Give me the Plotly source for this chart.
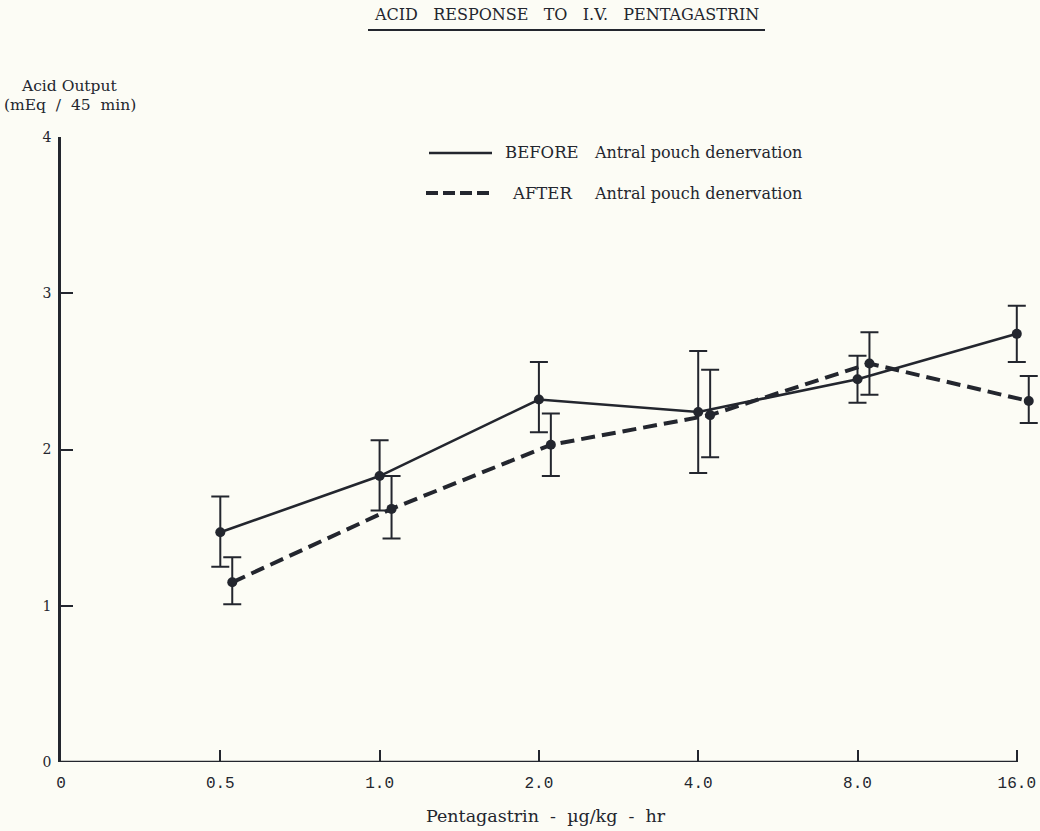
import plotly.graph_objects as go

# ---- data ----
dose_labels = ["0", "0.5", "1.0", "2.0", "4.0", "8.0", "16.0"]
doses = ["0.5", "1.0", "2.0", "4.0", "8.0", "16.0"]

before_mean = [1.47, 1.83, 2.32, 2.24, 2.45, 2.74]
before_upper = [1.70, 2.06, 2.56, 2.63, 2.60, 2.92]
before_lower = [1.25, 1.61, 2.11, 1.85, 2.30, 2.56]

after_mean = [1.15, 1.62, 2.03, 2.22, 2.55, 2.31]
after_upper = [1.31, 1.83, 2.23, 2.51, 2.75, 2.47]
after_lower = [1.01, 1.43, 1.83, 1.95, 2.35, 2.17]

y_ticks = [0, 1, 2, 3, 4]

# ---- styling / layout ----
INK = "#23262e"
BG = "#fcfcf5"
W, H = 1040, 831
L, R, T, B = 61, 0, 137, 69
AFTER_SHIFT = 0.075

def pos(d):
    return dose_labels.index(d)

x_before = [pos(d) for d in doses]
x_after = [pos(d) + AFTER_SHIFT for d in doses]

def err(mean, up, lo):
    return ([u - m for m, u in zip(mean, up)], [m - l for m, l in zip(mean, lo)])

bp, bm = err(before_mean, before_upper, before_lower)
ap, am = err(after_mean, after_upper, after_lower)

fig = go.Figure()
fig.add_trace(go.Scatter(
    x=x_before, y=before_mean, mode="lines+markers", name="BEFORE",
    line=dict(color=INK, width=2.6),
    marker=dict(color=INK, size=10),
    error_y=dict(type="data", symmetric=False, array=bp, arrayminus=bm,
                 color=INK, thickness=2, width=9),
    showlegend=False,
))
fig.add_trace(go.Scatter(
    x=x_after, y=after_mean, mode="lines+markers", name="AFTER",
    line=dict(color=INK, width=4, dash="14px,7px"),
    marker=dict(color=INK, size=10),
    error_y=dict(type="data", symmetric=False, array=ap, arrayminus=am,
                 color=INK, thickness=2, width=9),
    showlegend=False,
))

pw = W - L - R
ph = H - T - B

def px(x):
    return (x - L) / pw

def py(y):
    return (H - B - y) / ph

serif = "DejaVu Serif"
annotations = [
    dict(text="ACID   RESPONSE   TO   I.V.   PENTAGASTRIN", x=px(566), y=py(15),
         font=dict(family=serif, size=16, color=INK)),
    dict(text="Acid Output", x=px(69), y=py(86),
         font=dict(family=serif, size=15.5, color=INK)),
    dict(text="(mEq  /  45  min)", x=px(70), y=py(105),
         font=dict(family=serif, size=15.5, color=INK)),
    dict(text="BEFORE", x=px(503), y=py(153), xanchor="left",
         font=dict(family=serif, size=16.5, color=INK)),
    dict(text="Antral pouch denervation", x=px(592), y=py(153), xanchor="left",
         font=dict(family=serif, size=16, color=INK)),
    dict(text="AFTER", x=px(510), y=py(193), xanchor="left",
         font=dict(family=serif, size=16.5, color=INK)),
    dict(text="Antral pouch denervation", x=px(592), y=py(193), xanchor="left",
         font=dict(family=serif, size=16, color=INK)),
    dict(text="Pentagastrin  -  \u00b5g/kg  -  hr", x=px(546), y=py(816),
         font=dict(family=serif, size=17.5, color=INK)),
]
for a in annotations:
    a.update(xref="paper", yref="paper", showarrow=False)
    a.setdefault("xanchor", "center")
    a.setdefault("yanchor", "middle")

shapes = [
    # title underline
    dict(type="line", xref="paper", yref="paper", x0=px(368), x1=px(765),
         y0=py(30), y1=py(30), line=dict(color=INK, width=2)),
    # legend samples
    dict(type="line", xref="paper", yref="paper", x0=px(429), x1=px(492),
         y0=py(153), y1=py(153), line=dict(color=INK, width=2.6)),
    dict(type="line", xref="paper", yref="paper", x0=px(426), x1=px(494),
         y0=py(193), y1=py(193), line=dict(color=INK, width=4, dash="12px,5px")),
    # x axis line (ends at the last dose)
    dict(type="line", xref="x", yref="y", x0=0, x1=len(dose_labels) - 1,
         y0=0, y1=0, line=dict(color=INK, width=2.6), layer="above"),
]

fig.update_layout(
    width=W, height=H,
    margin=dict(l=L, r=R, t=T, b=B, pad=0),
    paper_bgcolor=BG, plot_bgcolor=BG,
    annotations=annotations, shapes=shapes,
    xaxis=dict(
        range=[0, pw / 159.3], tickmode="array",
        tickvals=list(range(len(dose_labels))), ticktext=dose_labels,
        ticks="inside", ticklen=12, tickwidth=2, tickcolor=INK,
        showgrid=False, zeroline=False, showline=False,
        tickfont=dict(family="Liberation Mono", size=16, color=INK),
        ticklabelstandoff=9,
    ),
    yaxis=dict(
        range=[0, 4], tickmode="array", tickvals=y_ticks,
        ticks="inside", ticklen=12, tickwidth=2, tickcolor=INK,
        showgrid=False, zeroline=False, showline=True, linecolor=INK, linewidth=2.6,
        tickfont=dict(family=serif, size=14, color=INK),
        ticklabelstandoff=4,
    ),
)

fig.write_html("out.html")
